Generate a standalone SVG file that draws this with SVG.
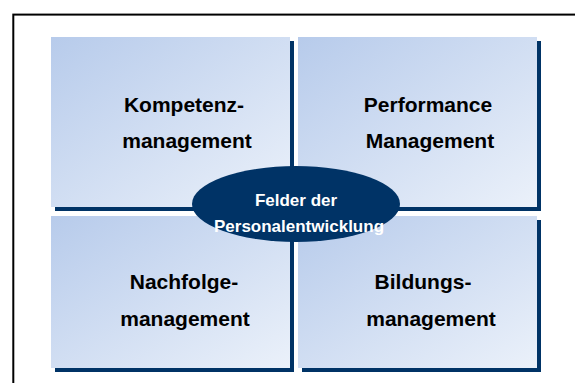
<svg xmlns="http://www.w3.org/2000/svg" width="575" height="383" viewBox="0 0 575 383">
<style>
.box{fill:url(#g)}
.sh{fill:#003366}
.lbl{font-family:"Liberation Sans",Arial,sans-serif;font-weight:bold;font-size:21px;fill:#000;text-anchor:middle}
.clbl{font-family:"Liberation Sans",Arial,sans-serif;font-weight:bold;font-size:17px;fill:#fff;text-anchor:middle}
</style>
<defs>
<linearGradient id="g" x1="0" y1="0" x2="1" y2="1">
<stop offset="0" stop-color="#b7cbeb"/>
<stop offset="1" stop-color="#ebf1fa"/>
</linearGradient>
</defs>
<rect x="0" y="0" width="575" height="383" fill="#fff"/>
<rect x="13.3" y="14.6" width="620" height="420" fill="none" stroke="#000" stroke-width="2"/>
<g id="kompetenz">
<rect class="sh" x="55" y="41" width="239" height="170"/>
<rect class="box" x="51" y="37" width="239" height="170"/>
<text class="lbl" x="184" y="111.5">Kompetenz-</text>
<text class="lbl" x="187" y="148">management</text>
</g>
<g id="performance">
<rect class="sh" x="302" y="41" width="239" height="170"/>
<rect class="box" x="298" y="37" width="239" height="170"/>
<text class="lbl" x="428" y="111.5">Performance</text>
<text class="lbl" x="430" y="148">Management</text>
</g>
<g id="nachfolge">
<rect class="sh" x="55" y="220" width="239" height="152"/>
<rect class="box" x="51" y="216" width="239" height="152"/>
<text class="lbl" x="184" y="289">Nachfolge-</text>
<text class="lbl" x="185" y="325.5">management</text>
</g>
<g id="bildung">
<rect class="sh" x="302" y="220" width="239" height="152"/>
<rect class="box" x="298" y="216" width="239" height="152"/>
<text class="lbl" x="423" y="289">Bildungs-</text>
<text class="lbl" x="431" y="325.5">management</text>
</g>
<g id="connectors"></g>
<g id="center">
<ellipse cx="296" cy="204" rx="104" ry="38" fill="#003366"/>
<text class="clbl" x="296" y="205.5">Felder der</text>
<text class="clbl" x="299" y="231.5">Personalentwicklung</text>
</g>
</svg>
